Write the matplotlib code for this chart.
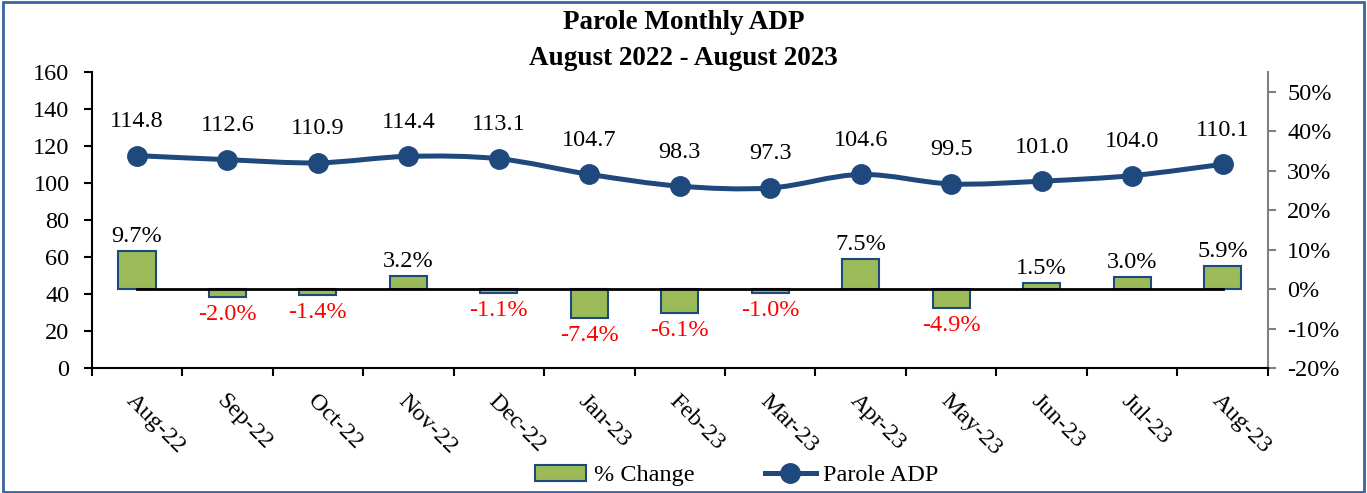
import numpy as np
import matplotlib.pyplot as plt
from matplotlib.path import Path
from matplotlib.patches import PathPatch, Rectangle, Patch
from matplotlib.lines import Line2D
from matplotlib.ticker import PercentFormatter, FixedLocator

# ===== datos =====
meses = ["Aug-22", "Sep-22", "Oct-22", "Nov-22", "Dec-22", "Jan-23", "Feb-23",
         "Mar-23", "Apr-23", "May-23", "Jun-23", "Jul-23", "Aug-23"]
adp = [114.8, 112.6, 110.9, 114.4, 113.1, 104.7, 98.3, 97.3, 104.6, 99.5, 101.0, 104.0, 110.1]
cambio = [9.7, -2.0, -1.4, 3.2, -1.1, -7.4, -6.1, -1.0, 7.5, -4.9, 1.5, 3.0, 5.9]

AZUL = "#1F497D"
VERDE = "#9BBB59"
FUENTE = "Liberation Serif"
FS = 17.5

plt.rcParams["font.family"] = [FUENTE, "DejaVu Serif"]
plt.rcParams["axes.unicode_minus"] = False

fig = plt.figure(figsize=(13.67, 4.93), dpi=100)
ax = fig.add_axes([0.0671, 0.2535, 0.8603, 0.6005])
ax2 = ax.twinx()

x = np.arange(len(meses))

# barras de % cambio (eje derecho)
pct = np.array(cambio) / 100.0
ax2.bar(x, pct, width=0.41, color=VERDE, edgecolor=AZUL, linewidth=1.5, zorder=2)
ax2.plot([x[0], x[-1]], [0, 0], color="black", linewidth=2, zorder=3)
for xi, v in zip(x, cambio):
    if v >= 0:
        ax2.annotate(f"{v:.1f}%", (xi, v / 100.0), xytext=(0, 3), textcoords="offset points",
                     ha="center", va="bottom", fontsize=FS, color="black")
    else:
        ax2.annotate(f"{v:.1f}%", (xi, v / 100.0), xytext=(0, -5), textcoords="offset points",
                     ha="center", va="top", fontsize=FS, color="red")

ax2.set_ylim(-0.2, 0.55)
ax2.yaxis.set_major_locator(FixedLocator(np.arange(-0.2, 0.51, 0.1)))
ax2.yaxis.set_major_formatter(PercentFormatter(1.0, decimals=0))
ax2.tick_params(axis="y", labelsize=FS, colors="#808080", labelcolor="black", length=6, width=1.5, pad=8)

# línea suavizada de ADP (eje izquierdo), curva Bezier tipo Excel
ax.set_zorder(ax2.get_zorder() + 1)
ax.patch.set_visible(False)
ya = np.array(adp)
verts = [(x[0], ya[0])]
codes = [Path.MOVETO]
for i in range(len(x) - 1):
    p0 = np.array([x[max(i - 1, 0)], ya[max(i - 1, 0)]])
    p1 = np.array([x[i], ya[i]])
    p2 = np.array([x[i + 1], ya[i + 1]])
    p3 = np.array([x[min(i + 2, len(x) - 1)], ya[min(i + 2, len(x) - 1)]])
    c1 = p1 + (p2 - p0) / 6.0
    c2 = p2 - (p3 - p1) / 6.0
    verts += [tuple(c1), tuple(c2), tuple(p2)]
    codes += [Path.CURVE4] * 3
ax.add_patch(PathPatch(Path(verts, codes), facecolor="none", edgecolor=AZUL, linewidth=3.6, zorder=3))
ax.plot(x, adp, linestyle="none", marker="o", markersize=14, color=AZUL, zorder=4)
for xi, v in zip(x, adp):
    ax.annotate(f"{v:.1f}", (xi, v), xytext=(0, 17), textcoords="offset points",
                ha="center", va="bottom", fontsize=FS)

ax.set_ylim(0, 160)
ax.set_yticks(np.arange(0, 161, 20))
ax.set_xlim(-0.5, len(meses) - 0.5)
ax.tick_params(axis="y", labelsize=FS, length=6, width=1.5, pad=10)
ax.set_xticks(np.arange(-0.5, len(meses), 1.0))
ax.set_xticklabels([])
ax.tick_params(axis="x", length=6, width=1.5)
ax.set_xticks(x, minor=True)
ax.set_xticklabels(meses, minor=True, rotation=-45, ha="left", va="top",
                   rotation_mode="anchor", fontsize=FS)
ax.tick_params(axis="x", which="minor", length=0, pad=16)

for a in (ax, ax2):
    a.spines["top"].set_visible(False)
ax.spines["right"].set_visible(False)
ax.spines["left"].set_linewidth(1.5)
ax.spines["bottom"].set_linewidth(1.5)
ax2.spines["left"].set_visible(False)
ax2.spines["bottom"].set_visible(False)
ax2.spines["right"].set_color("#808080")
ax2.spines["right"].set_linewidth(1.5)

fig.text(0.5, 0.955, "Parole Monthly ADP", ha="center", va="center", fontsize=19.5, fontweight="bold")
fig.text(0.5, 0.882, "August 2022 - August 2023", ha="center", va="center", fontsize=19.5, fontweight="bold")

handles = [Patch(facecolor=VERDE, edgecolor=AZUL, linewidth=1.5),
           Line2D([], [], color=AZUL, linewidth=3.6, marker="o", markersize=14)]
fig.legend(handles, ["% Change", "Parole ADP"], loc="center", bbox_to_anchor=(0.539, 0.035),
           ncol=2, frameon=False, fontsize=FS, handlelength=2.1, handleheight=0.6,
           columnspacing=2.9, handletextpad=0.3)

fig.add_artist(Rectangle((0.002, 0.003), 0.996, 0.992, transform=fig.transFigure,
                         fill=False, edgecolor="#3B64A0", linewidth=2))

plt.savefig("out.png", dpi=100)
plt.close()
